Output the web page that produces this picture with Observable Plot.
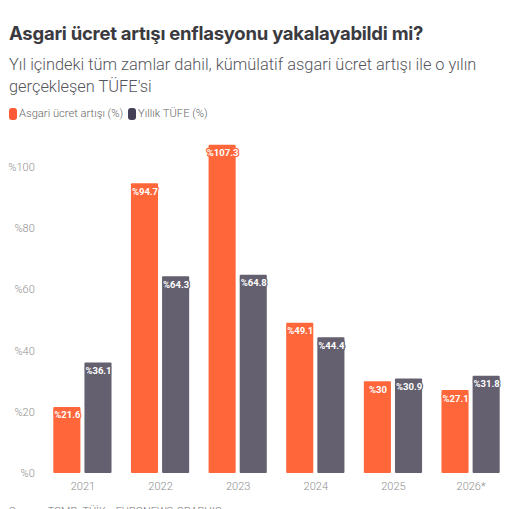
<!DOCTYPE html>
<html><head><meta charset="utf-8">
<script src="https://cdn.jsdelivr.net/npm/d3@7"></script>
<script src="https://cdn.jsdelivr.net/npm/@observablehq/plot@0.6"></script>
<style>
html,body{margin:0;padding:0;background:#fff;overflow:hidden;height:509px}
#wrap{position:relative;width:525px;height:509px;overflow:hidden;font-family:Roboto,sans-serif}
h1{position:absolute;left:9px;top:20.5px;margin:0;font:700 18.5px/24px Inter,Roboto,sans-serif;color:#3a3a40;letter-spacing:-.25px;white-space:nowrap}
#sub{position:absolute;left:9px;top:54px;font:300 16.4px/21.5px Roboto,sans-serif;color:#55555c;white-space:nowrap}
#legend{position:absolute;left:9px;top:107px;font:300 11.2px/14px Roboto,sans-serif;color:#666;display:flex;align-items:center;white-space:nowrap}
#legend i{display:inline-block;width:8px;height:12px;border-radius:3px;margin-right:2px}
#legend span{margin-right:5px}
#plot{position:absolute;left:0;top:125px}
#cap{position:absolute;left:9px;top:504.5px;font:300 10.8px/14px Roboto,sans-serif;color:#777;white-space:nowrap;word-spacing:1px}
svg text{font-family:Roboto,sans-serif}
</style></head><body><div id="wrap">
<h1 id="t"></h1><div id="sub"></div><div id="legend"></div><div id="plot"></div><div id="cap"></div>
</div><script>
const titleText = "Asgari ücret artışı enflasyonu yakalayabildi mi?";
const subtitleLines = ["Yıl içindeki tüm zamlar dahil, kümülatif asgari ücret artışı ile o yılın", "gerçekleşen TÜFE'si"];
const captionText = "Source: TCMB, TÜİK · EURONEWS GRAPHIC";
const years = ["2021","2022","2023","2024","2025","2026*"];
const seriesNames = ["Asgari ücret artışı (%)","Yıllık TÜFE (%)"];
const seriesColors = ["#ff673a","#65606f"];
const legendColors = ["#ff5a35","#453f58"];
const wage = [21.6,94.7,107.3,49.1,30,27.1];
const cpi = [36.1,64.3,64.8,44.4,30.9,31.8];
const yTicks = [0,20,40,60,80,100];

document.getElementById("t").textContent = titleText;
document.getElementById("sub").innerHTML = subtitleLines.join("<br>");
document.getElementById("cap").textContent = captionText;
document.getElementById("legend").innerHTML = seriesNames.map((n,i)=>`<i style="background:${legendColors[i]}"></i><span>${n}</span>`).join("");

const rows = years.flatMap((y,i)=>[
  {year:y,series:seriesNames[0],value:wage[i]},
  {year:y,series:seriesNames[1],value:cpi[i]}
]);
const fmt = d => "%"+d;
const chart = Plot.plot({
  width:525,height:384,marginTop:11.4,marginBottom:36,marginLeft:43.6,marginRight:15.6,
  style:{background:"transparent"},
  fx:{domain:years,padding:.25,paddingOuter:.125,round:false,axis:null},
  x:{domain:seriesNames,paddingInner:.13,paddingOuter:0,round:false,axis:null},
  y:{domain:[0,110],axis:null},
  color:{domain:seriesNames,range:seriesColors},
  marks:[
    Plot.barY(rows,{fx:"year",x:"series",y:"value",fill:"series",rx:1}),
    Plot.text(rows,{fx:"year",x:"series",y:"value",text:d=>fmt(d.value),dy:8,fill:"#fff",stroke:"series",strokeWidth:2.5,fontSize:9.5,fontWeight:700}),
    Plot.axisY({ticks:yTicks,tickFormat:fmt,tickSize:0,label:null,fill:"#8f8f8f",fontSize:11,fontWeight:300,anchor:"left",tickPadding:19}),
    Plot.axisFx({domain:years,anchor:"bottom",tickSize:0,label:null,fill:"#8f8f8f",fontSize:11,fontWeight:300,tickPadding:9})
  ]
});
document.getElementById("plot").appendChild(chart);
</script></body></html>
